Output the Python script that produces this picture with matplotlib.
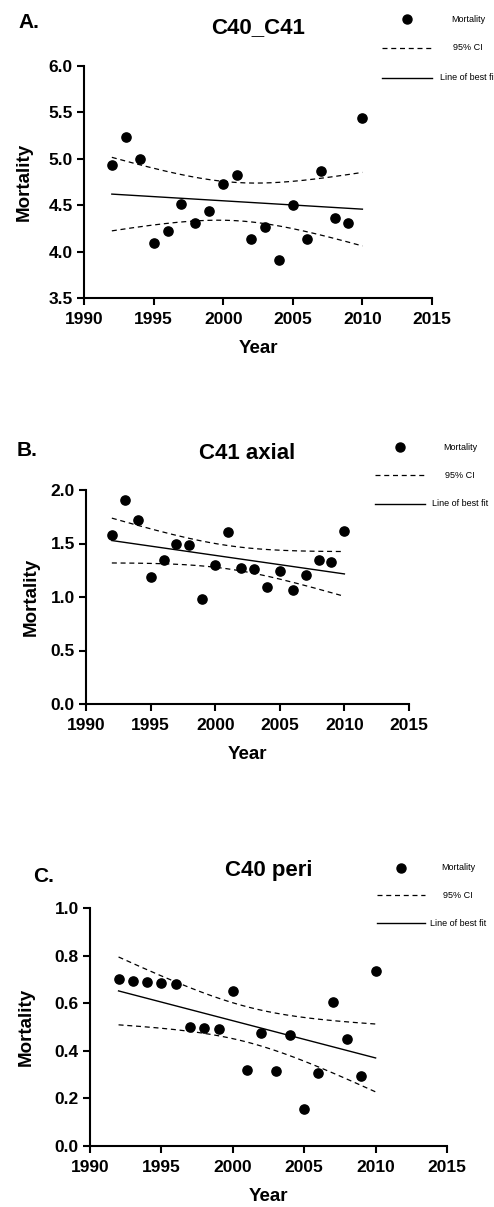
import matplotlib
matplotlib.use("Agg")
import matplotlib.pyplot as plt
from matplotlib.lines import Line2D
import numpy as np

plt.rcParams['font.family'] = ['Liberation Sans', 'DejaVu Sans']

years = list(range(1992, 2011))

# values
mort_a = [4.93, 5.23, 5.00, 4.09, 4.22, 4.51, 4.31, 4.44, 4.73, 4.83,
          4.14, 4.27, 3.91, 4.50, 4.14, 4.87, 4.36, 4.31, 5.44]
mort_b = [1.58, 1.91, 1.72, 1.19, 1.345, 1.50, 1.49, 0.98, 1.30, 1.61,
          1.27, 1.26, 1.09, 1.24, 1.07, 1.21, 1.35, 1.33, 1.615]
mort_c = [0.70, 0.695, 0.69, 0.685, 0.68, 0.50, 0.495, 0.49, 0.65, 0.32,
          0.476, 0.314, 0.466, 0.154, 0.305, 0.606, 0.45, 0.295, 0.734]

titles = ["C40_C41", "C41 axial", "C40 peri"]
letters = ["A.", "B.", "C."]
ylims = [(3.5, 6.0), (0.0, 2.0), (0.0, 1.0)]
ysteps = [0.5, 0.5, 0.2]
legend_labels = ["Mortality", "95% CI", "Line of best fit"]

W, H = 494, 1207
fig = plt.figure(figsize=(W / 100, H / 100), dpi=100)

# axes boxes in pixels: left, right, top, bottom
boxes = [(84, 432, 66, 298), (86, 409, 490, 704), (90, 447, 908, 1146)]
letter_pos = [(18, 22), (17, 451), (33, 877)]
title_pad = [24, 22, 23]
ylabel_pad = [11, 8, 14.5]
# legend layout in pixels: handle left, handle right, text centre, row y's
leg_x = [(382, 432, 468), (375, 425, 460), (377, 425, 458)]
leg_y = [(19, 48, 78), (447, 475, 504), (868, 895, 923)]

T_CRIT = 2.110  # t(0.975, df=17)


def fit_with_ci(x, y):
    x = np.asarray(x, float)
    y = np.asarray(y, float)
    slope, icpt = np.polyfit(x, y, 1)
    resid = y - (slope * x + icpt)
    n = len(x)
    s = np.sqrt(np.sum(resid ** 2) / (n - 2))
    xs = np.linspace(x.min(), x.max(), 200)
    yhat = slope * xs + icpt
    half = T_CRIT * s * np.sqrt(1 / n + (xs - x.mean()) ** 2 / np.sum((x - x.mean()) ** 2))
    return xs, yhat, yhat - half, yhat + half


def fx(px):
    return px / W


def fy(px):
    return 1 - px / H


for i, mort in enumerate([mort_a, mort_b, mort_c]):
    l, r, t, b = boxes[i]
    ax = fig.add_axes([fx(l), fy(b), (r - l) / W, (b - t) / H])

    xs, yhat, lo, hi = fit_with_ci(years, mort)
    ax.plot(xs, yhat, color='black', lw=1.0)
    ax.plot(xs, lo, color='black', lw=0.9, ls=(0, (4, 3)))
    ax.plot(xs, hi, color='black', lw=0.9, ls=(0, (4, 3)))
    ax.scatter(years, mort, s=44, color='black', zorder=3, clip_on=False)

    ax.set_xlim(1990, 2015)
    ax.set_ylim(*ylims[i])
    ax.set_xticks(range(1990, 2016, 5))
    ax.set_yticks(np.arange(ylims[i][0], ylims[i][1] + 1e-9, ysteps[i]))
    ax.yaxis.set_major_formatter(matplotlib.ticker.FormatStrFormatter('%.1f'))

    for side in ['top', 'right']:
        ax.spines[side].set_visible(False)
    for side in ['left', 'bottom']:
        ax.spines[side].set_linewidth(1.5)
    ax.tick_params(width=1.5, length=5, labelsize=12.5, pad=3)
    ax.tick_params(axis='x', pad=5)
    for lab in ax.get_xticklabels() + ax.get_yticklabels():
        lab.set_fontweight('bold')

    ax.set_xlabel("Year", fontsize=13.5, fontweight='bold', labelpad=9.5)
    ax.set_ylabel("Mortality", fontsize=13.5, fontweight='bold', labelpad=ylabel_pad[i])
    ax.set_title(titles[i], fontsize=16, fontweight='bold', pad=title_pad[i])

    lx, ly = letter_pos[i]
    fig.text(fx(lx), fy(ly), letters[i], fontsize=15, fontweight='bold', va='center', ha='left')

    # legend, drawn by hand so the labels are centred like the original
    h0, h1, tc = leg_x[i]
    r0, r1, r2 = leg_y[i]
    fig.add_artist(Line2D([fx((h0 + h1) / 2)], [fy(r0)], color='black', marker='o',
                          ls='none', markersize=6.5, transform=fig.transFigure))
    fig.add_artist(Line2D([fx(h0), fx(h1)], [fy(r1), fy(r1)], color='black', lw=0.9,
                          ls=(0, (4, 3)), transform=fig.transFigure))
    fig.add_artist(Line2D([fx(h0), fx(h1)], [fy(r2), fy(r2)], color='black', lw=1.0,
                          transform=fig.transFigure))
    for lab, ry in zip(legend_labels, leg_y[i]):
        fig.text(fx(tc), fy(ry), lab, fontsize=6.5, ha='center', va='center')

fig.savefig("out.png", dpi=100)
